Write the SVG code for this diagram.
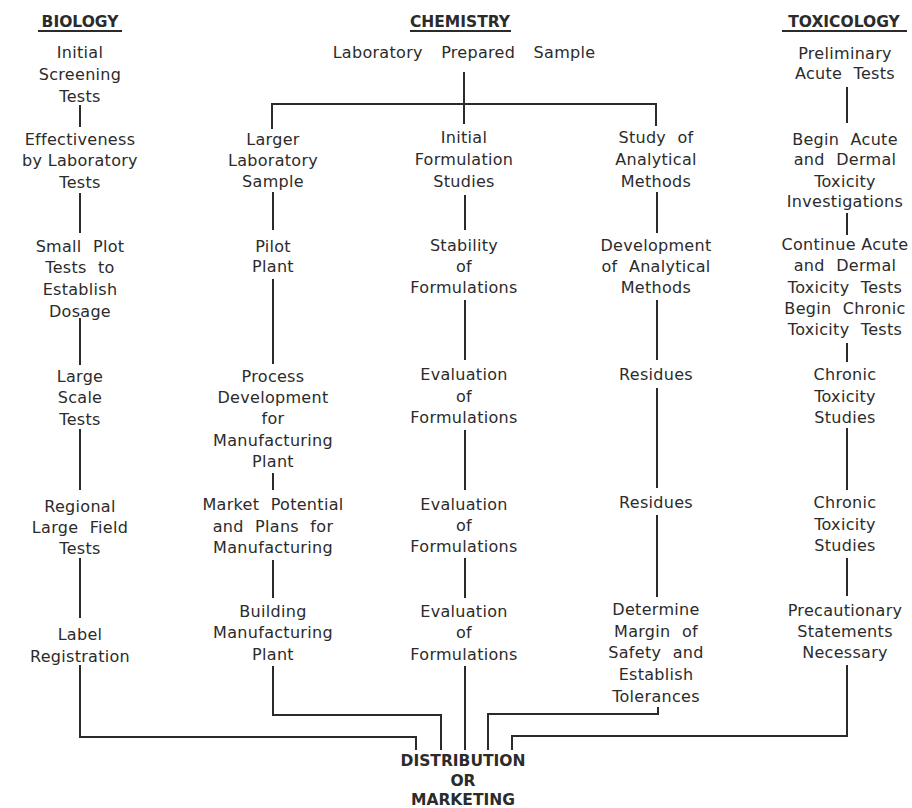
<svg xmlns="http://www.w3.org/2000/svg" width="912" height="808" viewBox="0 0 912 808">
<style>
text{font-family:"DejaVu Sans","Liberation Sans",sans-serif;fill:#2b2b2b;text-anchor:middle}
.t{font-size:16px;letter-spacing:0.3px}
.w{word-spacing:6px}
.h{font-size:15.5px;font-weight:bold}
.c line,.c polyline{stroke:#2b2b2b;stroke-width:2;fill:none}
.u{stroke:#2b2b2b;stroke-width:2}
</style>
<rect width="912" height="808" fill="#ffffff"/>
<g id="headers">
<g id="h-biology"><text class="h" x="80" y="27">BIOLOGY</text><line class="u" x1="38" y1="31" x2="122" y2="31"/></g>
<g id="h-chemistry"><text class="h" x="460" y="27">CHEMISTRY</text><line class="u" x1="410" y1="31" x2="511" y2="31"/></g>
<g id="h-toxicology"><text class="h" x="844" y="27">TOXICOLOGY</text><line class="u" x1="782" y1="31" x2="907" y2="31"/></g>
</g>
<g class="c" id="connectors">
<line x1="464" y1="72" x2="464" y2="124"/>
<polyline points="272,129 272,104 656,104 656,126"/>
<line x1="80" y1="105" x2="80" y2="127"/>
<line x1="80" y1="193" x2="80" y2="233"/>
<line x1="80" y1="318" x2="80" y2="365"/>
<line x1="80" y1="429" x2="80" y2="490"/>
<line x1="80" y1="558" x2="80" y2="618"/>
<polyline points="80,665 80,737 416,737 416,750"/>
<line x1="273" y1="192" x2="273" y2="230"/>
<line x1="273" y1="279" x2="273" y2="364"/>
<line x1="273" y1="473" x2="273" y2="490"/>
<line x1="273" y1="560" x2="273" y2="598"/>
<polyline points="273,666 273,715 441,715 441,750"/>
<line x1="465" y1="195" x2="465" y2="230"/>
<line x1="465" y1="300" x2="465" y2="360"/>
<line x1="465" y1="430" x2="465" y2="490"/>
<line x1="465" y1="558" x2="465" y2="598"/>
<line x1="465" y1="666" x2="465" y2="750"/>
<line x1="657" y1="192" x2="657" y2="233"/>
<line x1="657" y1="300" x2="657" y2="360"/>
<line x1="657" y1="388" x2="657" y2="488"/>
<line x1="657" y1="515" x2="657" y2="597"/>
<polyline points="658,707 658,714 488,714 488,750"/>
<line x1="847" y1="87" x2="847" y2="123"/>
<line x1="847" y1="213" x2="847" y2="235"/>
<line x1="847" y1="343" x2="847" y2="362"/>
<line x1="847" y1="428" x2="847" y2="490"/>
<line x1="847" y1="558" x2="847" y2="596"/>
<polyline points="847,665 847,736 512,736 512,750"/>
</g>
<g id="n-lab-sample"><text class="t" x="464" y="58" style="word-spacing:13px">Laboratory Prepared Sample</text></g>
<g id="n-bio1"><text class="t" x="80" y="58">Initial</text><text class="t" x="80" y="80">Screening</text><text class="t" x="80" y="102">Tests</text></g>
<g id="n-bio2"><text class="t" x="80" y="145">Effectiveness</text><text class="t" x="80" y="166">by Laboratory</text><text class="t" x="80" y="188">Tests</text></g>
<g id="n-bio3"><text class="t w" x="80" y="252">Small Plot</text><text class="t w" x="80" y="273">Tests to</text><text class="t" x="80" y="295">Establish</text><text class="t" x="80" y="317">Dosage</text></g>
<g id="n-bio4"><text class="t" x="80" y="382">Large</text><text class="t" x="80" y="403">Scale</text><text class="t" x="80" y="425">Tests</text></g>
<g id="n-bio5"><text class="t" x="80" y="512">Regional</text><text class="t w" x="80" y="533">Large Field</text><text class="t" x="80" y="554">Tests</text></g>
<g id="n-bio6"><text class="t" x="80" y="640">Label</text><text class="t" x="80" y="662">Registration</text></g>
<g id="n-c1"><text class="t" x="273" y="145">Larger</text><text class="t" x="273" y="166">Laboratory</text><text class="t" x="273" y="187">Sample</text></g>
<g id="n-c2"><text class="t" x="273" y="252">Pilot</text><text class="t" x="273" y="272">Plant</text></g>
<g id="n-c3"><text class="t" x="273" y="382">Process</text><text class="t" x="273" y="403">Development</text><text class="t" x="273" y="424">for</text><text class="t" x="273" y="446">Manufacturing</text><text class="t" x="273" y="467">Plant</text></g>
<g id="n-c4"><text class="t w" x="273" y="510">Market Potential</text><text class="t w" x="273" y="532">and Plans for</text><text class="t" x="273" y="553">Manufacturing</text></g>
<g id="n-c5"><text class="t" x="273" y="617">Building</text><text class="t" x="273" y="638">Manufacturing</text><text class="t" x="273" y="660">Plant</text></g>
<g id="n-f1"><text class="t" x="464" y="143">Initial</text><text class="t" x="464" y="165">Formulation</text><text class="t" x="464" y="187">Studies</text></g>
<g id="n-f2"><text class="t" x="464" y="251">Stability</text><text class="t" x="464" y="272">of</text><text class="t" x="464" y="293">Formulations</text></g>
<g id="n-f3"><text class="t" x="464" y="380">Evaluation</text><text class="t" x="464" y="402">of</text><text class="t" x="464" y="423">Formulations</text></g>
<g id="n-f4"><text class="t" x="464" y="510">Evaluation</text><text class="t" x="464" y="531">of</text><text class="t" x="464" y="552">Formulations</text></g>
<g id="n-f5"><text class="t" x="464" y="617">Evaluation</text><text class="t" x="464" y="638">of</text><text class="t" x="464" y="660">Formulations</text></g>
<g id="n-a1"><text class="t w" x="656" y="143">Study of</text><text class="t" x="656" y="165">Analytical</text><text class="t" x="656" y="187">Methods</text></g>
<g id="n-a2"><text class="t" x="656" y="251">Development</text><text class="t w" x="656" y="272">of Analytical</text><text class="t" x="656" y="293">Methods</text></g>
<g id="n-a3"><text class="t" x="656" y="380">Residues</text></g>
<g id="n-a4"><text class="t" x="656" y="508">Residues</text></g>
<g id="n-a5"><text class="t" x="656" y="615">Determine</text><text class="t w" x="656" y="637">Margin of</text><text class="t w" x="656" y="658">Safety and</text><text class="t" x="656" y="680">Establish</text><text class="t" x="656" y="702">Tolerances</text></g>
<g id="n-t1"><text class="t" x="845" y="59">Preliminary</text><text class="t w" x="845" y="79">Acute Tests</text></g>
<g id="n-t2"><text class="t w" x="845" y="145">Begin Acute</text><text class="t w" x="845" y="165">and Dermal</text><text class="t" x="845" y="187">Toxicity</text><text class="t" x="845" y="207">Investigations</text></g>
<g id="n-t3"><text class="t" x="845" y="250">Continue Acute</text><text class="t w" x="845" y="271">and Dermal</text><text class="t w" x="845" y="293">Toxicity Tests</text><text class="t w" x="845" y="314">Begin Chronic</text><text class="t w" x="845" y="335">Toxicity Tests</text></g>
<g id="n-t4"><text class="t" x="845" y="380">Chronic</text><text class="t" x="845" y="402">Toxicity</text><text class="t" x="845" y="423">Studies</text></g>
<g id="n-t5"><text class="t" x="845" y="508">Chronic</text><text class="t" x="845" y="530">Toxicity</text><text class="t" x="845" y="551">Studies</text></g>
<g id="n-t6"><text class="t" x="845" y="616">Precautionary</text><text class="t" x="845" y="637">Statements</text><text class="t" x="845" y="658">Necessary</text></g>
<g id="n-distribution"><text class="h" x="463" y="766">DISTRIBUTION</text><text class="h" x="463" y="786">OR</text><text class="h" x="463" y="805">MARKETING</text></g>
</svg>
